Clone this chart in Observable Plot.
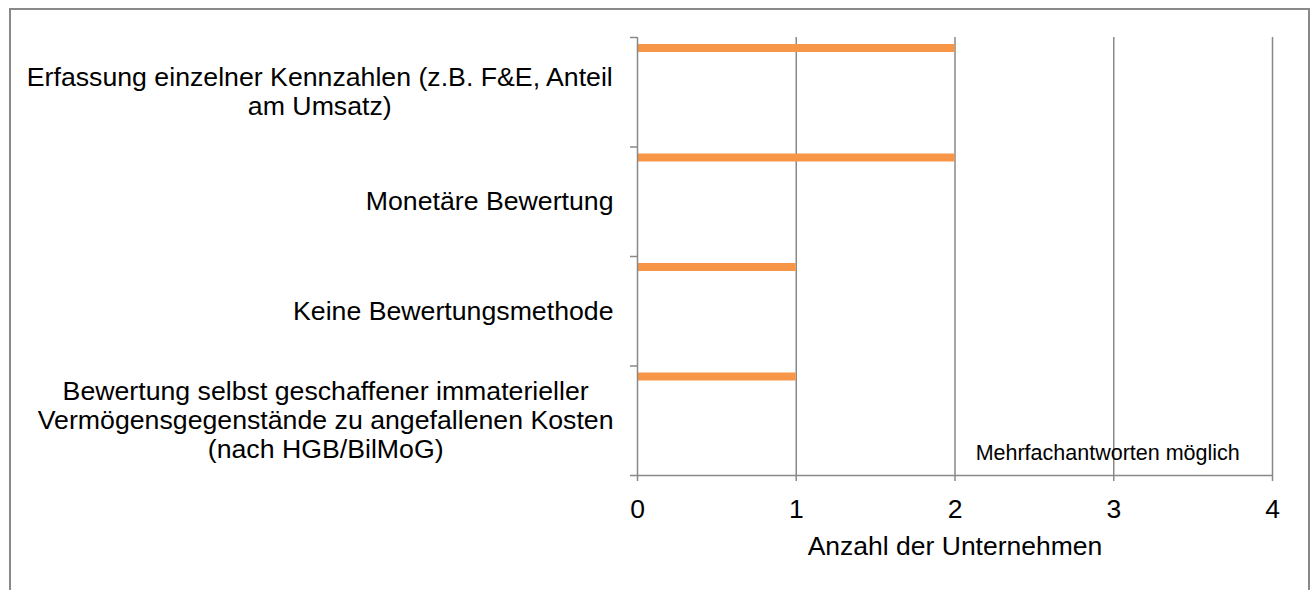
<!DOCTYPE html>
<html>
<head>
<meta charset="utf-8">
<script src="https://cdn.jsdelivr.net/npm/d3@7"></script>
<script src="https://cdn.jsdelivr.net/npm/@observablehq/plot@0.6"></script>
<style>
  html, body { margin: 0; padding: 0; background: #fff; }
  #wrap { position: relative; width: 1311px; height: 590px; overflow: hidden; font-family: "Liberation Sans", Arial, sans-serif; }
  #border { position: absolute; left: 9px; top: 8px; width: 1301px; height: 640px; border: 2px solid #898989; box-sizing: border-box; }
  #chart { position: absolute; left: 0; top: 0; }
</style>
</head>
<body>
<div id="wrap"><div id="border"></div><div id="chart"></div></div>
<script>
const categories = [
  "Erfassung einzelner Kennzahlen (z.B. F&E, Anteil\nam Umsatz)",
  "Monetäre Bewertung",
  "Keine Bewertungsmethode",
  "Bewertung selbst geschaffener immaterieller\nVermögensgegenstände zu angefallenen Kosten\n(nach HGB/BilMoG)"
];
const values = [2, 2, 1, 1];
const xTicks = [0, 1, 2, 3, 4];
const xLabel = "Anzahl der Unternehmen";
const note = "Mehrfachantworten möglich";

const rows = categories.map((c, i) => ({label: c, value: values[i], i}));
const gray = "#898989";
const font = "Liberation Sans, Arial, sans-serif";
const labelSize = 26.7;

// measure each label block so lines can be centred within a right-aligned block
const ctx = document.createElement("canvas").getContext("2d");
ctx.font = `${labelSize}px "Liberation Sans", Arial, sans-serif`;
const blockWidth = (s) => Math.max(...s.split("\n").map(l => ctx.measureText(l).width));

const labelMarks = rows.map(r =>
  Plot.text([r], {
    x: 0, y: d => d.i + 0.5, text: "label",
    textAnchor: "middle", dx: -24 - blockWidth(r.label) / 2, dy: -1,
    fontSize: labelSize, lineHeight: 1.085, fill: "#000"
  })
);

const chart = Plot.plot({
  width: 1311,
  height: 590,
  marginLeft: 637,
  marginRight: 39,
  marginTop: 37,
  marginBottom: 115,
  style: {fontFamily: font, background: "transparent", overflow: "visible"},
  x: {domain: [0, 4]},
  y: {domain: [0, 4], reverse: true},
  marks: [
    Plot.ruleX([1, 2, 3, 4], {stroke: gray, strokeWidth: 1.5}),
    Plot.rectX(rows, {x1: 0, x2: "value", y1: "i", y2: d => d.i + 1, fill: "#F79646", insetTop: 7, insetBottom: 94.5}),
    Plot.ruleX([0], {stroke: gray, strokeWidth: 1.5}),
    Plot.ruleY([4], {stroke: gray, strokeWidth: 1.5}),
    Plot.axisY({ticks: [0, 1, 2, 3, 4], tickSize: 7, tickFormat: () => "", stroke: gray, strokeWidth: 1.5, label: null}),
    Plot.axisX({ticks: xTicks, tickSize: 6, tickPadding: 17.5, fontSize: 26.5, stroke: gray, strokeWidth: 1.5, fill: "#000", label: null, tickFormat: d => String(d)}),
    ...labelMarks,
    Plot.text([xLabel], {x: 2, frameAnchor: "bottom", dy: 79, fontSize: 26.5, fill: "#000"}),
    Plot.text([note], {x: 2.13, y: 3.8, textAnchor: "start", fontSize: 21.5, fill: "#000"})
  ]
});
document.getElementById("chart").appendChild(chart);
</script>
</body>
</html>
